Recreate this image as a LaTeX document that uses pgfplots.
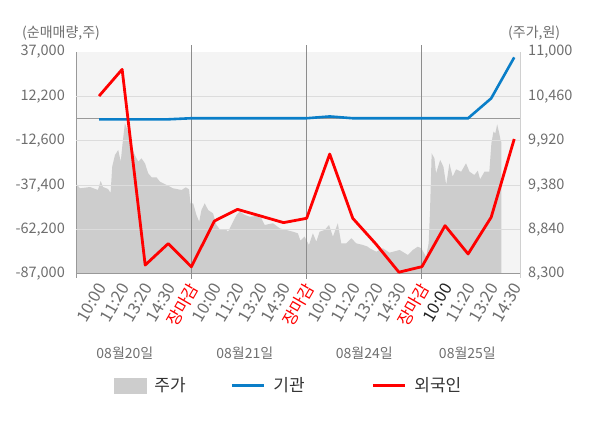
\documentclass[border=0pt]{standalone}
\usepackage{pgfplots}
\pgfplotsset{compat=1.18}
\usepackage{fontspec}
\setmainfont{Noto Sans CJK KR}
\definecolor{bgc}{HTML}{F4F4F4}
\definecolor{areac}{HTML}{CDCDCD}
\definecolor{gridc}{HTML}{DCDCDC}
\definecolor{sepc}{HTML}{8C8C8C}
\definecolor{zeroc}{HTML}{999999}
\definecolor{axc}{HTML}{999999}
\definecolor{axr}{HTML}{D0D0D0}
\definecolor{tickc}{HTML}{6E6E6E}
\definecolor{darktxt}{HTML}{222222}
\definecolor{legc}{HTML}{333333}
\definecolor{redc}{HTML}{FF0000}
\definecolor{bluec}{HTML}{0A7EC8}

\pgfplotstableread{
x y
0 9403
0.17 9342
0.61 9358
0.95 9322
1.07 9431
1.17 9358
1.39 9334
1.50 9285
1.57 9605
1.69 9747
1.83 9808
1.94 9666
2.02 9890
2.12 10133
2.26 10031
2.41 9848
2.55 9747
2.70 9666
2.84 9707
2.99 9646
3.13 9525
3.28 9476
3.49 9476
3.64 9423
3.93 9382
4.21 9342
4.58 9322
4.76 9354
4.90 9330
4.96 9160
5.08 9160
5.22 9018
5.34 8936
5.44 9078
5.58 9160
5.73 9078
5.94 9038
6.09 8896
6.23 8844
6.38 8835
6.52 8835
6.59 8814
6.74 8896
6.96 9018
7.10 9058
7.32 9018
7.53 8997
7.82 9005
8.04 8977
8.18 8896
8.54 8917
8.83 8856
9.12 8835
9.41 8814
9.62 8795
9.73 8705
9.91 8754
10.10 8653
10.27 8795
10.42 8693
10.56 8814
10.78 8835
10.97 8896
11.14 8754
11.35 8917
11.50 8673
11.72 8673
11.94 8734
12.15 8673
12.44 8653
12.65 8632
12.73 8613
13.02 8571
13.30 8613
13.59 8559
14.03 8592
14.39 8531
14.60 8592
14.82 8632
14.97 8613
15.18 8510
15.29 8673
15.35 9078
15.42 9768
15.54 9707
15.61 9525
15.79 9687
15.93 9605
16.05 9382
16.19 9646
16.33 9483
16.48 9573
16.70 9544
16.91 9646
17.06 9544
17.27 9504
17.42 9556
17.52 9452
17.71 9544
17.92 9544
18.01 9890
18.10 10031
18.18 10011
18.26 10121
18.35 10011
18.42 9909
18.44 9909
}\pricetable

\pgfplotstableread{
x y
1 -600
2 -600
3 -600
4 -600
5 0
6 0
7 0
8 0
9 0
10 0
11 1000
12 0
13 0
14 0
15 0
16 0
17 0
18 11100
19 34000
}\insttable

\pgfplotstableread{
x y
1 12400
2 27300
3 -82000
4 -70000
5 -83000
6 -57400
7 -50900
8 -54600
9 -58300
10 -55900
11 -20000
12 -55900
13 -70200
14 -86000
15 -82900
16 -60000
17 -75800
18 -55300
19 -11600
}\fortable

\begin{document}
\begin{tikzpicture}
\useasboundingbox (0,0) rectangle (600bp,428bp);
\begin{axis}[
  at={(76bp,154bp)}, anchor=south west,
  scale only axis, width=444bp, height=222bp,
  xmin=0, xmax=19.25, ymin=8300, ymax=11000,
  axis x line=none, axis y line*=right,
  axis line style={draw=axr, line width=1bp},
  axis background/.style={fill=bgc},
  ytick={8300,8840,9380,9920,10460,11000},
  scaled y ticks=false,
  major tick length=0pt,
  yticklabel style={anchor=west, inner sep=0pt, xshift=8bp, text=tickc, font=\fontsize{14.5bp}{16bp}\selectfont},
  /pgf/number format/fixed,
  /pgf/number format/1000 sep={,},
  /pgf/number format/assume math mode=true,
]
\addplot[fill=areac, draw=none] table[x=x,y=y] {\pricetable} \closedcycle;
\end{axis}

\begin{axis}[
  at={(76bp,154bp)}, anchor=south west,
  scale only axis, width=444bp, height=222bp,
  xmin=0, xmax=19.25, ymin=-87000, ymax=37000,
  axis x line*=bottom, axis y line*=left,
  axis line style={draw=axc, line width=1bp},
  clip=false,
  major tick length=0pt,
  scaled y ticks=false,
  ytick={-87000,-62200,-37400,-12600,12200,37000},
  extra y ticks={-62200,-37400,-12600,12200},
  extra y tick labels={},
  extra y tick style={grid=major, major grid style={draw=gridc, line width=1bp}},
  yticklabel style={anchor=east, inner sep=0pt, xshift=-11bp, text=tickc, font=\fontsize{14.5bp}{16bp}\selectfont},
  xtick={1,...,19},
  xticklabels={10:00,11:20,13:20,14:30,\textcolor{redc}{장마감},10:00,11:20,13:20,14:30,\textcolor{redc}{장마감},10:00,11:20,13:20,14:30,\textcolor{redc}{장마감},\textcolor{darktxt}{10:00},11:20,13:20,14:30},
  xticklabel style={rotate=60, anchor=east, inner sep=0pt, xshift=-8bp, yshift=-8bp, text=tickc, font=\fontsize{16.5bp}{18bp}\selectfont},
  /pgf/number format/fixed,
  /pgf/number format/1000 sep={,},
  /pgf/number format/assume math mode=true,
  legend columns=3,
  legend style={draw=none, fill=none, inner sep=0pt, outer sep=0pt,
    at={(0.0856,-0.502)}, anchor=west,
    nodes={inner sep=0pt, text=legc, font=\fontsize{17bp}{19bp}\selectfont},
    /tikz/every odd column/.style={column sep=8bp}},
]
\addlegendimage{legend image code/.code={\fill[areac] (0bp,-7.5bp) rectangle (32bp,7.5bp);}}
\addlegendentry{\makebox[76bp][l]{주가}}
\addlegendimage{legend image code/.code={\draw[bluec, line width=3bp] (0bp,0bp) -- (32bp,0bp);}}
\addlegendentry{\makebox[98bp][l]{기관}}
\addlegendimage{legend image code/.code={\draw[redc, line width=3bp] (0bp,0bp) -- (32bp,0bp);}}
\addlegendentry{외국인}

\draw[zeroc, line width=1bp] (axis cs:0,0) -- (axis cs:19.25,0);
\draw[sepc, line width=1bp] ([yshift=-5bp]axis cs:5,-87000) -- ([yshift=7bp]axis cs:5,37000);
\draw[sepc, line width=1bp] ([yshift=-5bp]axis cs:10,-87000) -- ([yshift=7bp]axis cs:10,37000);
\draw[sepc, line width=1bp] ([yshift=-5bp]axis cs:15,-87000) -- ([yshift=7bp]axis cs:15,37000);
\draw[axc, line width=1bp] ([yshift=-4bp]axis cs:0,-87000) -- (axis cs:0,-87000);
\draw[axr, line width=1bp] ([yshift=-4bp]axis cs:19.25,-87000) -- (axis cs:19.25,-87000);

\addplot[forget plot, bluec, line width=2.6bp] table[x=x,y=y] {\insttable};
\addplot[forget plot, redc, line width=2.8bp, line join=round] table[x=x,y=y] {\fortable};

\node[text=tickc, font=\fontsize{14bp}{16bp}\selectfont] at (axis cs:2.12,-87000) [yshift=-79bp] {08월20일};
\node[text=tickc, font=\fontsize{14bp}{16bp}\selectfont] at (axis cs:7.32,-87000) [yshift=-79bp] {08월21일};
\node[text=tickc, font=\fontsize{14bp}{16bp}\selectfont] at (axis cs:12.5,-87000) [yshift=-79bp] {08월24일};
\node[text=tickc, font=\fontsize{14bp}{16bp}\selectfont] at (axis cs:16.97,-87000) [yshift=-79bp] {08월25일};
\end{axis}
\node[anchor=west, inner sep=0pt, text=tickc, font=\fontsize{14bp}{16bp}\selectfont] at (22bp,395bp) {(순매매량,주)};
\node[anchor=west, inner sep=0pt, text=tickc, font=\fontsize{14bp}{16bp}\selectfont] at (508bp,395bp) {(주가,원)};
\end{tikzpicture}
\end{document}
